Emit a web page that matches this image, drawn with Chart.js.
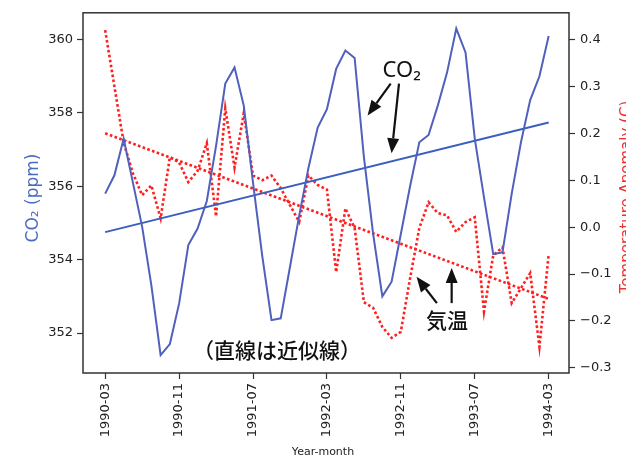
<!DOCTYPE html>
<html lang="ja">
<head>
    <meta charset="UTF-8">
    <title>CO2 and Temperature Anomaly</title>
    <script src="https://cdn.jsdelivr.net/npm/chart.js"></script>
    <style>
        html, body { margin: 0; padding: 0; background: #fff; }
        #wrap { width: 626px; height: 459px; }
    </style>
</head>
<body>
    <div id="wrap"><canvas id="chart" width="626" height="459"></canvas></div>

    <script>
        // Monthly values, 1990-03 .. 1994-03 (49 months)
        const co2 = [355.8, 356.3, 357.3, 356.1, 354.9, 353.3, 351.4, 351.7, 352.8, 354.4,
                     354.85, 355.6, 357.1, 358.8, 359.24, 358.2, 356.1, 354.1, 352.35, 352.4,
                     353.8, 355.2, 356.5, 357.6, 358.1, 359.2, 359.7, 359.5, 356.8, 354.7,
                     353.0, 353.4, 354.7, 356.0, 357.2, 357.4, 358.2, 359.1, 360.3, 359.65,
                     357.3, 355.7, 354.15, 354.2, 355.8, 357.2, 358.35, 359.0, 360.1];
        const temp = [0.42, 0.30, 0.18, 0.115, 0.068, 0.089, 0.019, 0.149, 0.138, 0.096,
                      0.12, 0.179, 0.023, 0.253, 0.127, 0.243, 0.11, 0.10, 0.11, 0.083,
                      0.047, 0.011, 0.11, 0.09, 0.08, -0.096, 0.04, -0.002, -0.16, -0.172,
                      -0.213, -0.236, -0.223, -0.109, -0.002, 0.053, 0.03, 0.025, -0.01, 0.011,
                      0.021, -0.18, -0.06, -0.043, -0.162, -0.13, -0.098, -0.255, -0.058];

        // linear fits (start / end values)
        const co2Trend = [354.75, 357.74];
        const tempTrend = [0.20, -0.153];

        const xTickPos = [0, 8, 16, 24, 32, 40, 48];
        const xTickLabels = ['1990-03', '1990-11', '1991-07', '1992-03', '1992-11', '1993-07', '1994-03'];
        const co2Ticks = [352, 354, 356, 358, 360];
        const tempTicks = [-0.3, -0.2, -0.1, 0.0, 0.1, 0.2, 0.3, 0.4];

        const last = co2.length - 1;
        const co2Pts = co2.map((v, i) => ({ x: i, y: v }));
        const tempPts = temp.map((v, i) => ({ x: i, y: v }));

        const tickFont = { family: 'DejaVu Sans', size: 13 };
        const ink = '#222';

        function drawArrow(ctx, x1, y1, x2, y2) {
            const a = Math.atan2(y2 - y1, x2 - x1), hl = 15, hw = 6;
            const bx = x2 - hl * Math.cos(a), by = y2 - hl * Math.sin(a);
            ctx.beginPath();
            ctx.moveTo(x1, y1);
            ctx.lineTo(bx, by);
            ctx.stroke();
            ctx.beginPath();
            ctx.moveTo(x2, y2);
            ctx.lineTo(bx + hw * Math.sin(a), by - hw * Math.cos(a));
            ctx.lineTo(bx - hw * Math.sin(a), by + hw * Math.cos(a));
            ctx.closePath();
            ctx.fill();
        }

        // frame, axis titles and the hand-made notes
        const decorations = {
            id: 'decorations',
            afterDraw(chart) {
                const { ctx, chartArea: ca, scales } = chart;
                const X = scales.x, Y = scales.y, Y1 = scales.y1;
                ctx.save();

                ctx.strokeStyle = '#333';
                ctx.lineWidth = 1.5;
                ctx.strokeRect(ca.left, ca.top, ca.right - ca.left, ca.bottom - ca.top);

                // axis titles
                ctx.fillStyle = '#4a6cc0';
                ctx.font = '17px "DejaVu Sans"';
                ctx.textAlign = 'center';
                ctx.textBaseline = 'middle';
                ctx.save();
                ctx.translate(34, 198);
                ctx.rotate(-Math.PI / 2);
                ctx.fillText('CO₂ (ppm)', 0, 0);
                ctx.restore();

                ctx.fillStyle = '#f03030';
                ctx.font = '15px "DejaVu Sans"';
                ctx.textBaseline = 'top';
                ctx.save();
                ctx.translate(620, 197);
                ctx.rotate(-Math.PI / 2);
                ctx.fillText('Temperature Anomaly (C)', 0, 0);
                ctx.restore();

                ctx.fillStyle = ink;
                ctx.font = '11px "DejaVu Sans"';
                ctx.textBaseline = 'middle';
                ctx.fillText('Year-month', (ca.left + ca.right) / 2 - 3, 452);

                // notes
                ctx.fillStyle = '#111';
                ctx.strokeStyle = '#111';
                ctx.lineWidth = 2.2;
                ctx.font = '22px "Noto Sans"';
                ctx.fillText('CO₂', X.getPixelForValue(32.1), Y.getPixelForValue(359.16));
                drawArrow(ctx, X.getPixelForValue(30.9), Y.getPixelForValue(358.8),
                               X.getPixelForValue(28.4), Y.getPixelForValue(357.93));
                drawArrow(ctx, X.getPixelForValue(31.8), Y.getPixelForValue(358.8),
                               X.getPixelForValue(31.0), Y.getPixelForValue(356.9));

                ctx.font = '500 21px "Noto Sans CJK JP"';
                ctx.fillText('気温', X.getPixelForValue(37.0), Y1.getPixelForValue(-0.198));
                drawArrow(ctx, X.getPixelForValue(35.9), Y1.getPixelForValue(-0.162),
                               X.getPixelForValue(33.7), Y1.getPixelForValue(-0.106));
                drawArrow(ctx, X.getPixelForValue(37.5), Y1.getPixelForValue(-0.162),
                               X.getPixelForValue(37.5), Y1.getPixelForValue(-0.087));

                ctx.font = '500 21px "Noto Sans CJK JP"';
                ctx.fillText('（直線は近似線）', X.getPixelForValue(18.6), Y.getPixelForValue(351.54));

                ctx.restore();
            }
        };

        const ctx = document.getElementById('chart').getContext('2d');
        new Chart(ctx, {
            type: 'line',
            data: {
                datasets: [
                    {
                        label: 'CO2',
                        data: co2Pts,
                        yAxisID: 'y',
                        borderColor: '#5060bd',
                        borderWidth: 2,
                        pointRadius: 0,
                        tension: 0
                    },
                    {
                        label: 'CO2 fit',
                        data: [{ x: 0, y: co2Trend[0] }, { x: last, y: co2Trend[1] }],
                        yAxisID: 'y',
                        borderColor: '#3a5fc0',
                        borderWidth: 2,
                        pointRadius: 0
                    },
                    {
                        label: 'Temperature',
                        data: tempPts,
                        yAxisID: 'y1',
                        borderColor: '#ff1f1f',
                        borderWidth: 2.6,
                        borderDash: [2.6, 2.4],
                        pointRadius: 0,
                        tension: 0
                    },
                    {
                        label: 'Temperature fit',
                        data: [{ x: 0, y: tempTrend[0] }, { x: last, y: tempTrend[1] }],
                        yAxisID: 'y1',
                        borderColor: '#ff1f1f',
                        borderWidth: 2.6,
                        borderDash: [2.6, 2.4],
                        pointRadius: 0
                    }
                ]
            },
            options: {
                responsive: false,
                animation: false,
                layout: { padding: { top: 12, left: 0, right: 0, bottom: 0 } },
                plugins: {
                    legend: { display: false },
                    tooltip: { enabled: false }
                },
                scales: {
                    x: {
                        type: 'linear',
                        min: -2.4,
                        max: 50.2,
                        afterBuildTicks: s => { s.ticks = xTickPos.map(v => ({ value: v })); },
                        afterFit: s => { s.height = 86; },
                        ticks: {
                            autoSkip: false,
                            minRotation: 90,
                            maxRotation: 90,
                            padding: 4,
                            font: tickFont,
                            color: ink,
                            callback: (v, i) => xTickLabels[i]
                        },
                        grid: { drawOnChartArea: false, tickLength: 6, tickColor: '#333', tickWidth: 1.2 },
                        border: { display: false }
                    },
                    y: {
                        position: 'left',
                        min: 350.91,
                        max: 360.73,
                        afterBuildTicks: s => { s.ticks = co2Ticks.map(v => ({ value: v })); },
                        afterFit: s => { s.width = 83; },
                        ticks: { padding: 4, font: tickFont, color: ink, callback: v => String(v) },
                        grid: { drawOnChartArea: false, tickLength: 6, tickColor: '#333', tickWidth: 1.2 },
                        border: { display: false }
                    },
                    y1: {
                        position: 'right',
                        min: -0.311,
                        max: 0.457,
                        afterBuildTicks: s => { s.ticks = tempTicks.map(v => ({ value: v })); },
                        afterFit: s => { s.width = 57; },
                        ticks: {
                            padding: 5,
                            font: tickFont,
                            color: ink,
                            callback: v => v.toFixed(1).replace('-', '\u2212')
                        },
                        grid: { drawOnChartArea: false, tickLength: 6, tickColor: '#333', tickWidth: 1.2 },
                        border: { display: false }
                    }
                }
            },
            plugins: [decorations]
        });
    </script>
</body>
</html>
